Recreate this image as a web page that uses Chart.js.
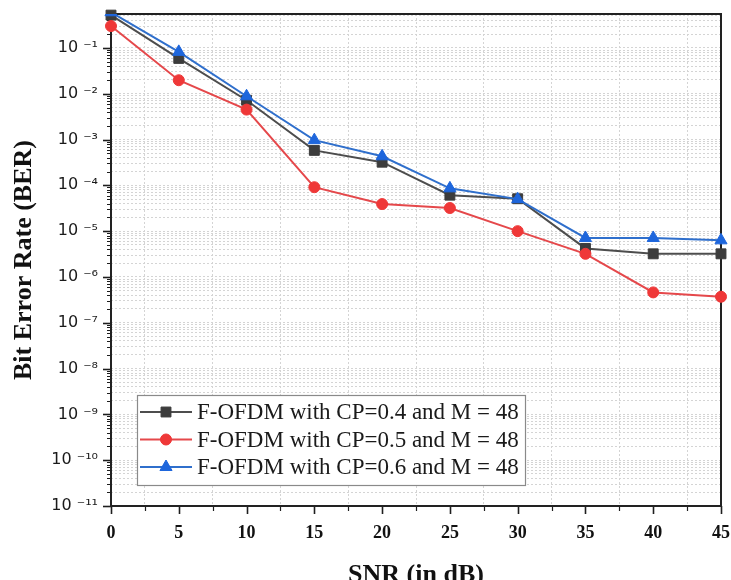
<!DOCTYPE html>
<html>
<head>
<meta charset="utf-8">
<title>BER vs SNR</title>
<script src="https://cdn.jsdelivr.net/npm/chart.js@4.4.0/dist/chart.umd.min.js"></script>
<style>
  html, body { margin: 0; padding: 0; background: #ffffff; }
  #wrap { width: 731px; height: 580px; }
</style>
</head>
<body>
<div id="wrap"><canvas id="ber" width="731" height="580"></canvas></div>
<script>
// SNR sweep (dB) and measured bit error rates for three cyclic-prefix ratios
const snr = [0, 5, 10, 15, 20, 25, 30, 35, 40, 45];
const berCP04 = [0.52, 0.059, 0.0072, 5.8e-4, 3.2e-4, 6.1e-5, 5.1e-5, 4.2e-6, 3.2e-6, 3.2e-6];
const berCP05 = [0.30, 0.0197, 0.0045, 9.1e-5, 3.9e-5, 3.2e-5, 1.0e-5, 3.2e-6, 4.6e-7, 3.7e-7];
const berCP06 = [0.60, 0.082, 0.0088, 9.7e-4, 4.3e-4, 8.6e-5, 5.0e-5, 7.1e-6, 7.1e-6, 6.3e-6];
const seriesLabels = [
  'F-OFDM with CP=0.4 and M = 48',
  'F-OFDM with CP=0.5 and M = 48',
  'F-OFDM with CP=0.6 and M = 48'
];
const xTickLabels = ['0', '5', '10', '15', '20', '25', '30', '35', '40', '45'];
const yTickLabels = ['10 ⁻¹¹', '10 ⁻¹⁰', '10 ⁻⁹', '10 ⁻⁸', '10 ⁻⁷', '10 ⁻⁶', '10 ⁻⁵', '10 ⁻⁴', '10 ⁻³', '10 ⁻²', '10 ⁻¹'];
const yMinExp = -11;

const toPoints = arr => snr.map((x, i) => ({ x: x, y: arr[i] }));

// Frame around the plot plus major/minor tick marks, drawn from the scales
const frameTicks = {
  id: 'frameTicks',
  beforeDatasetsDraw(chart) {
    const { ctx, chartArea: a, scales: { x, y } } = chart;
    ctx.save();
    ctx.strokeStyle = '#1e1e1e';
    ctx.lineCap = 'butt';
    y.ticks.forEach(t => {
      const py = Math.round(y.getPixelForValue(t.value)) + 0.5;
      ctx.lineWidth = t.major ? 1.6 : 1;
      ctx.beginPath();
      ctx.moveTo(a.left - (t.major ? 8 : 4), py);
      ctx.lineTo(a.left, py);
      ctx.stroke();
    });
    x.ticks.forEach(t => {
      const px = Math.round(x.getPixelForValue(t.value)) + 0.5;
      const major = t.value % 5 === 0;
      ctx.lineWidth = major ? 1.6 : 1.2;
      ctx.beginPath();
      ctx.moveTo(px, a.bottom);
      ctx.lineTo(px, a.bottom + (major ? 8 : 5));
      ctx.stroke();
    });
    ctx.lineWidth = 2;
    ctx.strokeStyle = '#222222';
    ctx.strokeRect(a.left, a.top, a.right - a.left, a.bottom - a.top);
    ctx.restore();
  }
};

// Boxed legend inside the plot, each entry shows the line and its marker
const boxedLegend = {
  id: 'boxedLegend',
  afterDraw(chart) {
    const { ctx, chartArea: a } = chart;
    const bx = a.left + 26, by = a.bottom - 111, bw = 388, bh = 90;
    ctx.save();
    ctx.fillStyle = '#ffffff';
    ctx.fillRect(bx, by, bw, bh);
    ctx.lineWidth = 1.2;
    ctx.strokeStyle = '#8a8a8a';
    ctx.strokeRect(bx + 0.5, by + 0.5, bw, bh);
    ctx.font = '23px "Liberation Serif", "Times New Roman", serif';
    ctx.textBaseline = 'middle';
    ctx.textAlign = 'left';
    chart.data.datasets.forEach((ds, i) => {
      const cy = by + 17 + i * 27.5;
      ctx.strokeStyle = ds.borderColor;
      ctx.lineWidth = ds.borderWidth;
      ctx.beginPath();
      ctx.moveTo(bx + 3, cy);
      ctx.lineTo(bx + 55, cy);
      ctx.stroke();
      ctx.fillStyle = ds.pointBackgroundColor;
      ctx.strokeStyle = ds.pointBorderColor;
      ctx.lineWidth = ds.pointBorderWidth;
      Chart.helpers.drawPoint(ctx, {
        pointStyle: ds.pointStyle, radius: ds.pointRadius, rotation: 0, borderWidth: ds.pointBorderWidth
      }, bx + 29, cy);
      ctx.fillStyle = '#1a1a1a';
      ctx.fillText(ds.label, bx + 60, cy + 1);
    });
    ctx.restore();
  }
};

new Chart(document.getElementById('ber'), {
  type: 'line',
  data: {
    datasets: [
      {
        label: seriesLabels[0], data: toPoints(berCP04),
        borderColor: '#4d4d4d', backgroundColor: '#3c3c3c', borderWidth: 2,
        pointStyle: 'rect', pointRadius: 7, pointBackgroundColor: '#3c3c3c',
        pointBorderColor: '#3c3c3c', pointBorderWidth: 1, order: 3, clip: 12
      },
      {
        label: seriesLabels[1], data: toPoints(berCP05),
        borderColor: '#e5484b', backgroundColor: '#ef3838', borderWidth: 2,
        pointStyle: 'circle', pointRadius: 5.5, pointBackgroundColor: '#ef3838',
        pointBorderColor: '#ef3838', pointBorderWidth: 1, order: 2, clip: 12
      },
      {
        label: seriesLabels[2], data: toPoints(berCP06),
        borderColor: '#2f6fcc', backgroundColor: '#1e66dc', borderWidth: 2,
        pointStyle: 'triangle', pointRadius: 7, pointBackgroundColor: '#1e66dc',
        pointBorderColor: '#1e66dc', pointBorderWidth: 1, order: 1,
        clip: { left: 12, top: 0, right: 12, bottom: 12 }
      }
    ]
  },
  options: {
    responsive: false,
    animation: false,
    devicePixelRatio: 1,
    layout: { padding: { left: 0, right: 10, top: 14, bottom: 0 } },
    plugins: { legend: { display: false }, tooltip: { enabled: false } },
    elements: { line: { tension: 0 } },
    scales: {
      x: {
        type: 'linear', min: 0, max: 45,
        afterBuildTicks(scale) {
          const t = [];
          for (let v = 0; v <= 45; v += 2.5) t.push({ value: v });
          scale.ticks = t;
        },
        afterFit(scale) {
          scale.height = 74;
          scale.paddingLeft = 0;
          scale.paddingRight = 0;
        },
        ticks: {
          autoSkip: false, maxRotation: 0, padding: 17, color: '#111111',
          font: { family: '"Liberation Serif", "Times New Roman", serif', size: 18, weight: 'bold' },
          callback: v => (v % 5 === 0 ? xTickLabels[v / 5] : '')
        },
        grid: {
          drawTicks: false, lineWidth: 1,
          color: c => (c.tick && c.tick.value % 5 !== 0) ? '#d4d4d4' : 'rgba(0,0,0,0)'
        },
        border: { display: false, dash: [2, 2] },
        title: {
          display: true, text: 'SNR (in dB)', color: '#111111',
          font: { family: '"Liberation Serif", "Times New Roman", serif', size: 26, weight: 'bold', lineHeight: 0.4 },
          padding: { top: 0, bottom: 0 }
        }
      },
      y: {
        type: 'logarithmic', min: 1e-11, max: 0.55,
        afterBuildTicks(scale) {
          const t = [];
          for (let e = yMinExp; e <= 0; e++) {
            for (let k = 1; k <= 9; k++) {
              const v = Number((k * Math.pow(10, e)).toPrecision(3));
              if (v >= 1e-11 && v <= 0.55) t.push({ value: v, major: k === 1 });
            }
          }
          scale.ticks = t;
        },
        afterFit(scale) {
          scale.width = 111;
          scale.paddingTop = 0;
          scale.paddingBottom = 0;
        },
        ticks: {
          autoSkip: false, padding: 13, color: '#1a1a1a',
          font: { family: '"DejaVu Sans", sans-serif', size: 16 },
          callback: (v, i, ticks) => ticks[i].major ? yTickLabels[Math.round(Math.log10(v)) - yMinExp] : ''
        },
        grid: { drawTicks: false, lineWidth: 1, color: '#d4d4d4' },
        border: { display: false, dash: [2, 2] },
        title: {
          display: true, text: 'Bit Error Rate (BER)', color: '#111111',
          font: { family: '"Liberation Serif", "Times New Roman", serif', size: 26, weight: 'bold' },
          padding: { top: 9, bottom: 0 }
        }
      }
    }
  },
  plugins: [frameTicks, boxedLegend]
});
</script>
</body>
</html>
